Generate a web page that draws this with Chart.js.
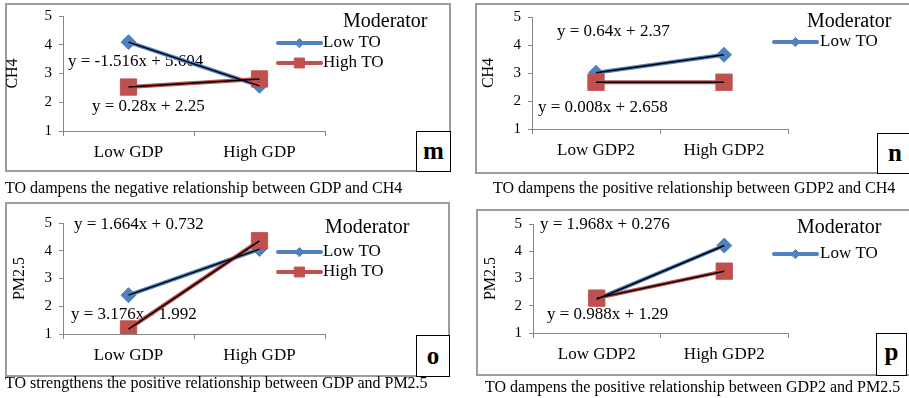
<!DOCTYPE html>
<html>
<head>
<meta charset="utf-8">
<script src="https://cdn.jsdelivr.net/npm/chart.js@4.4.1/dist/chart.umd.min.js"></script>
<style>
  body { margin:0; width:909px; height:398px; overflow:hidden; background:#fff; position:relative;
         font-family:'Liberation Serif','Times New Roman',serif; }
  .frame { position:absolute; box-sizing:border-box; border:2px solid #9d9d9d; }
  .tag { position:absolute; box-sizing:border-box; border:1px solid #000; background:#fff;
         font-weight:bold; font-size:25px; text-align:center; }
  .note { position:absolute; font-size:16px; line-height:18px; white-space:nowrap; color:#000; }
  canvas { position:absolute; }
</style>
</head>
<body>
<div class="frame" style="left:5px;top:3px;width:446px;height:169px"></div>
<div class="frame" style="left:475px;top:3px;width:450px;height:171px"></div>
<div class="frame" style="left:5px;top:202px;width:445px;height:175px"></div>
<div class="frame" style="left:476px;top:209px;width:450px;height:167px"></div>

<canvas id="m" width="455" height="200" style="left:0;top:0"></canvas>
<canvas id="n" width="454" height="200" style="left:455px;top:0"></canvas>
<canvas id="o" width="455" height="198" style="left:0;top:200px"></canvas>
<canvas id="p" width="454" height="198" style="left:455px;top:200px"></canvas>

<div class="tag" style="left:416px;top:131px;width:35px;height:41px;line-height:38px">m</div>
<div class="tag" style="left:877px;top:133px;width:36px;height:41px;line-height:38px">n</div>
<div class="tag" style="left:416px;top:335px;width:34px;height:42px;line-height:39px">o</div>
<div class="tag" style="left:876px;top:333px;width:31px;height:43px;line-height:36px">p</div>

<div class="note" style="left:5px;top:179px">TO dampens the negative relationship between GDP and CH4</div>
<div class="note" style="left:493px;top:179px">TO dampens the positive relationship between GDP2 and CH4</div>
<div class="note" style="left:5px;top:374px">TO strengthens the positive relationship between GDP and PM2.5</div>
<div class="note" style="left:485px;top:378px">TO dampens the positive relationship between GDP2 and PM2.5</div>

<script>
// ── Data ──────────────────────────────────────────────────────────────────────
const gdpLabels  = ["Low GDP", "High GDP"];
const gdp2Labels = ["Low GDP2", "High GDP2"];

const ch4GdpLowTO    = [4.09, 2.57];
const ch4GdpHighTO   = [2.53, 2.81];
const ch4Gdp2LowTO   = [3.01, 3.65];
const ch4Gdp2HighTO  = [2.67, 2.67];
const pmGdpLowTO     = [2.40, 4.06];
const pmGdpHighTO    = [1.18, 4.36];
const pmGdp2LowTO    = [2.24, 4.21];
const pmGdp2HighTO   = [2.28, 3.27];

const yMin = 1, yMax = 5, yStep = 1;

// ── Style ─────────────────────────────────────────────────────────────────────
const SERIF = "'Liberation Serif', 'Times New Roman', serif";
const BLUE  = "#4f81bd";
const RED   = "#c0504d";
const AXIS  = "#868686";

// Equation labels and the legend block are drawn by hand, Excel-style
const panelText = {
  id: "panelText",
  beforeDatasetsDraw(chart, _args, opts) {
    const ctx = chart.ctx;
    ctx.save();
    ctx.font = "17px " + SERIF;
    ctx.fillStyle = "#000";
    ctx.textAlign = "left";
    ctx.textBaseline = "middle";
    opts.equations.forEach(e => ctx.fillText(e.text, e.x, e.y));
    ctx.restore();
  },
  afterDraw(chart, _args, opts) {
    const ctx = chart.ctx;
    const lg  = opts.legend;
    ctx.save();
    ctx.textAlign = "left";
    ctx.textBaseline = "middle";
    ctx.fillStyle = "#000";
    ctx.font = "20px " + SERIF;
    ctx.fillText("Moderator", lg.titleX, lg.titleY);
    lg.items.forEach(it => {
      ctx.strokeStyle = it.color;
      ctx.lineWidth = 4;
      ctx.lineCap = "round";
      ctx.beginPath();
      ctx.moveTo(lg.x0, it.y);
      ctx.lineTo(lg.x1, it.y);
      ctx.stroke();
      ctx.fillStyle = it.color;
      ctx.lineWidth = 1;
      Chart.helpers.drawPoint(ctx, { pointStyle: it.style, radius: it.r, rotation: 0, borderWidth: 1 },
                              (lg.x0 + lg.x1) / 2, it.y);
      ctx.fillStyle = "#000";
      ctx.font = "17px " + SERIF;
      ctx.fillText(it.label, lg.textX, it.y);
    });
    ctx.restore();
  },
};

const lowItem  = y => ({ label: "Low TO",  color: BLUE, style: "rectRot", r: 4.5, y });
const highItem = y => ({ label: "High TO", color: RED,  style: "rect",    r: 7,   y });

// ── Panel builder ─────────────────────────────────────────────────────────────
function drawPanel(id, p) {
  const canvas = document.getElementById(id);
  const W = canvas.width, H = canvas.height;

  const series = (data, color, style, radius, order) => ({
    data, borderColor: color, backgroundColor: color, borderWidth: 4,
    pointStyle: style, pointRadius: radius, pointBorderWidth: 1, order, tension: 0,
  });
  const trend = data => ({
    data, borderColor: "#000", borderWidth: 1.5, pointRadius: 0, order: 0, tension: 0,
  });

  return new Chart(canvas.getContext("2d"), {
    type: "line",
    data: {
      labels: p.labels,
      datasets: [
        trend(p.low),
        trend(p.high),
        series(p.high, RED,  "rect",    11.5, 1),
        series(p.low,  BLUE, "rectRot", 7.5,  2),
      ],
    },
    options: {
      responsive: false,
      animation: false,
      events: [],
      layout: { padding: { left: 0, top: p.area.top, right: W - p.area.right, bottom: 0 } },
      scales: {
        x: {
          offset: true,
          grid:   { offset: true, drawOnChartArea: false, tickLength: 5, color: AXIS },
          border: { color: AXIS },
          ticks:  { color: "#000", font: { family: SERIF, size: 17 }, padding: 6, maxRotation: 0 },
          afterFit: s => { s.height = H - p.area.bottom; },
        },
        y: {
          min: yMin, max: yMax,
          grid:   { drawOnChartArea: false, tickLength: 4, color: AXIS },
          border: { color: AXIS },
          ticks:  { stepSize: yStep, color: "#000", font: { family: SERIF, size: 15 }, padding: 7 },
          title:  { display: true, text: p.yTitle, color: "#000",
                    font: { family: SERIF, size: 16 }, padding: { top: p.titleX - 9.6, bottom: 0 } },
          afterFit: s => { s.width = p.area.left; },
        },
      },
      plugins: {
        legend:  { display: false },
        tooltip: { enabled: false },
        panelText: { equations: p.equations, legend: p.legend },
      },
    },
    plugins: [panelText],
  });
}

drawPanel("m", {
  labels: gdpLabels, low: ch4GdpLowTO, high: ch4GdpHighTO, yTitle: "CH4", titleX: 13,
  area: { left: 63, top: 16, right: 325, bottom: 131 },
  equations: [
    { text: "y = -1.516x + 5.604", x: 68, y: 62 },
    { text: "y = 0.28x + 2.25",    x: 92, y: 107 },
  ],
  legend: { titleX: 343, titleY: 22, x0: 278, x1: 321, textX: 323, items: [lowItem(43), highItem(63)] },
});

drawPanel("n", {
  labels: gdp2Labels, low: ch4Gdp2LowTO, high: ch4Gdp2HighTO, yTitle: "CH4", titleX: 34,
  area: { left: 77, top: 17, right: 333, bottom: 129 },
  equations: [
    { text: "y = 0.64x + 2.37",   x: 102, y: 32 },
    { text: "y = 0.008x + 2.658", x: 83,  y: 108 },
  ],
  legend: { titleX: 352, titleY: 22, x0: 319, x1: 362, textX: 365, items: [lowItem(42)] },
});

drawPanel("o", {
  labels: gdpLabels, low: pmGdpLowTO, high: pmGdpHighTO, yTitle: "PM2.5", titleX: 19.5,
  area: { left: 63, top: 23, right: 325, bottom: 134 },
  equations: [
    { text: "y = 1.664x + 0.732", x: 74, y: 25 },
    { text: "y = 3.176x - 1.992", x: 71, y: 115 },
  ],
  legend: { titleX: 325, titleY: 28, x0: 278, x1: 321, textX: 323, items: [lowItem(52), highItem(72)] },
});

drawPanel("p", {
  labels: gdp2Labels, low: pmGdp2LowTO, high: pmGdp2HighTO, yTitle: "PM2.5", titleX: 36,
  area: { left: 78, top: 24, right: 333, bottom: 133 },
  equations: [
    { text: "y = 1.968x + 0.276", x: 85, y: 25 },
    { text: "y = 0.988x + 1.29",  x: 92, y: 115 },
  ],
  legend: { titleX: 342, titleY: 28, x0: 319, x1: 362, textX: 365, items: [lowItem(54)] },
});
</script>
</body>
</html>
